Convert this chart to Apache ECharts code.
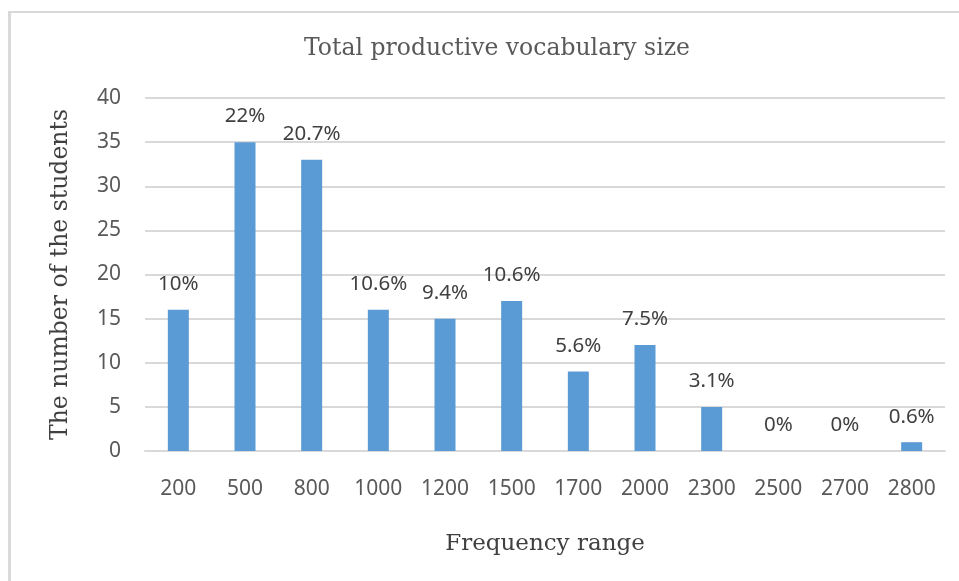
<!DOCTYPE html>
<html><head><meta charset="utf-8">
<script src="https://cdn.jsdelivr.net/npm/echarts@6/dist/echarts.min.js"></script>
<style>html,body{margin:0;padding:0;background:#fff}#c{width:959px;height:581px}</style>
</head><body><div id="c"></div>
<script>
const categories = ['200','500','800','1000','1200','1500','1700','2000','2300','2500','2700','2800'];
const students = [16,35,33,16,15,17,9,12,5,0,0,1];
const percents = ['10%','22%','20.7%','10.6%','9.4%','10.6%','5.6%','7.5%','3.1%','0%','0%','0.6%'];
const yTicks = [0,5,10,15,20,25,30,35,40];

const chart = echarts.init(document.getElementById('c'));
chart.setOption({
  animation:false,
  backgroundColor:'#fff',
  graphic:[
    {type:'line',shape:{x1:9.5,y1:12,x2:959,y2:12},style:{stroke:'#d9d9d9',lineWidth:2}},
    {type:'line',shape:{x1:9.5,y1:11,x2:9.5,y2:581},style:{stroke:'#d9d9d9',lineWidth:3}}
  ],
  title:{text:'Total productive vocabulary size',left:492,top:32,textAlign:'center',
    textStyle:{fontFamily:'DejaVu Serif',fontWeight:'normal',fontSize:23.5,color:'#595959'}},
  grid:{left:145,right:14,top:98,bottom:130},
  xAxis:{type:'category',data:categories,
    axisLine:{lineStyle:{color:'#d9d9d9',width:2}},axisTick:{show:false},
    axisLabel:{fontFamily:'Noto Sans',fontSize:21,color:'#595959',margin:28},
    name:'Frequency range',nameLocation:'middle',nameGap:82,
    nameTextStyle:{fontFamily:'DejaVu Serif',fontSize:23,color:'#404040'}},
  yAxis:{type:'value',min:yTicks[0],max:yTicks[yTicks.length-1],interval:5,
    axisLine:{show:false},axisTick:{show:false},
    splitLine:{lineStyle:{color:'#d9d9d9',width:2}},
    axisLabel:{fontFamily:'Noto Sans',fontSize:21,color:'#595959',margin:24},
    name:'The number of the students',nameLocation:'middle',nameGap:72,nameRotate:90,
    nameTextStyle:{fontFamily:'DejaVu Serif',fontSize:23.5,color:'#404040'}},
  series:[{type:'bar',data:students,barWidth:21,itemStyle:{color:'#5b9bd5'},
    label:{show:true,position:'top',distance:15,fontFamily:'Noto Sans',fontSize:20.5,color:'#404040',
      formatter:p=>percents[p.dataIndex]}}]
});
</script></body></html>
